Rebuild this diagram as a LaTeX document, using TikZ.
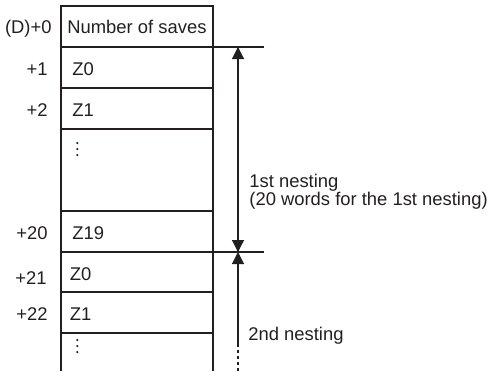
\documentclass[tikz,border=0pt]{standalone}
\usepackage{fontspec}
\setmainfont{Liberation Sans}
\usetikzlibrary{arrows.meta}
\definecolor{ink}{HTML}{231F20}
\begin{document}
\begin{tikzpicture}[x=0.5pt,y=-0.5pt,
  line/.style={draw=ink,line width=0.6pt},
  txt/.style={inner sep=0pt,text=ink,font=\fontsize{9.2}{11}\selectfont},
  lbl/.style={txt,anchor=base east},
  cell/.style={txt,anchor=base west},
  tip/.style={-{Triangle[width=6pt,length=6pt]}},
  dot/.style={fill=ink,draw=none}]
\useasboundingbox (0,0) rectangle (491,371);
% table frame
\draw[line] (61,371) -- (61,6) -- (213,6) -- (213,371);
\foreach \y in {88,129,211,292,333} \draw[line] (61,\y) -- (213,\y);
\draw[line] (61,47) -- (264,47);
\draw[line] (61,252) -- (264,252);
% address labels
\node[lbl] (d0) at (52,33.5) {(D)+0};
\node[lbl] (d1) at (48,75) {+1};
\node[lbl] (d2) at (48,116) {+2};
\node[lbl] (d20) at (48,239) {+20};
\node[lbl] (d21) at (47,284) {+21};
\node[lbl] (d22) at (48,320) {+22};
% cell contents
\node[cell] (c0) at (67,33.5) {Number of saves};
\node[cell] (c1) at (72,75) {Z0};
\node[cell] (c2) at (72,116) {Z1};
\node[cell] (c20) at (72,239) {Z19};
\node[cell] (c21) at (69.5,280) {Z0};
\node[cell] (c22) at (69.5,320) {Z1};
\foreach \y in {143,149,155,340,346,352} \fill[dot] (77.3,\y) circle (0.6pt);
% dimension arrows
\coordinate (a1) at (238,47);
\coordinate (a2) at (238,252);
\coordinate (a3) at (238,344);
\coordinate (a4) at (238,371);
\draw[line,tip] (a2) -- (a1);
\draw[line,tip] (a1) -- (a2);
\draw[line,tip] (a3) -- (a2);
\draw[line,dash pattern=on 1.5pt off 1.5pt] (a3) -- (a4);
% captions
\node[cell] (n1) at (249,187) {1st nesting};
\node[cell] (n1b) at (249,205) {(20 words for the 1st nesting)};
\node[cell] (n2) at (248,340) {2nd nesting};
\end{tikzpicture}
\end{document}
